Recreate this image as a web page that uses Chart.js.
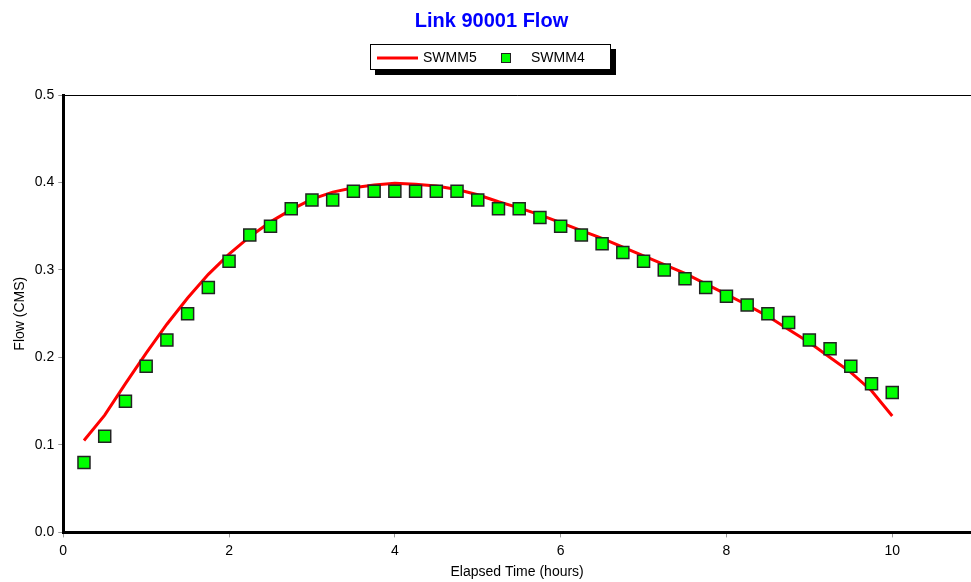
<!DOCTYPE html>
<html>
<head>
<meta charset="utf-8">
<script src="https://cdn.jsdelivr.net/npm/chart.js@4"></script>
<style>
  html, body { margin: 0; padding: 0; background: #fff; }
  #wrap { width: 971px; height: 582px; }
</style>
</head>
<body>
<div id="wrap"><canvas id="chart"></canvas></div>
<script>
// elapsed time (hours) for every reported step
const hours = [0.25, 0.5, 0.75, 1, 1.25, 1.5, 1.75, 2, 2.25, 2.5, 2.75, 3, 3.25, 3.5, 3.75, 4,
  4.25, 4.5, 4.75, 5, 5.25, 5.5, 5.75, 6, 6.25, 6.5, 6.75, 7, 7.25, 7.5, 7.75, 8,
  8.25, 8.5, 8.75, 9, 9.25, 9.5, 9.75, 10];
const swmm5Flow = [0.105, 0.134, 0.17, 0.205, 0.238, 0.268, 0.295, 0.318, 0.338, 0.355, 0.369, 0.381,
  0.389, 0.394, 0.397, 0.399, 0.398, 0.396, 0.392, 0.386, 0.378, 0.371, 0.363, 0.354,
  0.345, 0.336, 0.326, 0.316, 0.306, 0.296, 0.284, 0.272, 0.26, 0.247, 0.232, 0.217,
  0.2, 0.183, 0.162, 0.133];
const swmm4Flow = [0.08, 0.11, 0.15, 0.19, 0.22, 0.25, 0.28, 0.31, 0.34, 0.35, 0.37, 0.38,
  0.38, 0.39, 0.39, 0.39, 0.39, 0.39, 0.39, 0.38, 0.37, 0.37, 0.36, 0.35,
  0.34, 0.33, 0.32, 0.31, 0.30, 0.29, 0.28, 0.27, 0.26, 0.25, 0.24, 0.22,
  0.21, 0.19, 0.17, 0.16];
const xTicks = [0, 2, 4, 6, 8, 10];
const yTicks = [0.0, 0.1, 0.2, 0.3, 0.4, 0.5];

const FONT = "'Liberation Sans', Arial, sans-serif";
Chart.defaults.font.family = FONT;
Chart.defaults.color = "#000";

// top frame line + boxed legend with drop shadow
const frameAndLegend = {
  id: "frameAndLegend",
  afterDraw(chart) {
    const { ctx, chartArea } = chart;
    ctx.save();
    ctx.strokeStyle = "#000";
    ctx.lineWidth = 1;
    ctx.beginPath();
    ctx.moveTo(chartArea.left, chartArea.top + 0.5);
    ctx.lineTo(chart.width, chartArea.top + 0.5);
    ctx.stroke();

    // legend
    const bx = 370, by = 44, bw = 241, bh = 26;
    ctx.fillStyle = "#000";
    ctx.fillRect(bx + 5, by + 5, bw, bh);
    ctx.fillStyle = "#fff";
    ctx.fillRect(bx, by, bw, bh);
    ctx.strokeStyle = "#000";
    ctx.lineWidth = 1;
    ctx.strokeRect(bx + 0.5, by + 0.5, bw - 1, bh - 1);

    const ds = chart.data.datasets;
    const cy = by + 14;
    ctx.strokeStyle = ds[0].borderColor;
    ctx.lineWidth = 3;
    ctx.beginPath();
    ctx.moveTo(377, cy);
    ctx.lineTo(418, cy);
    ctx.stroke();
    ctx.fillStyle = ds[1].backgroundColor;
    ctx.fillRect(501, cy - 5, 10, 10);
    ctx.strokeStyle = "#222";
    ctx.lineWidth = 1;
    ctx.strokeRect(501.5, cy - 4.5, 9, 9);

    ctx.fillStyle = "#000";
    ctx.font = "14px " + FONT;
    ctx.textBaseline = "middle";
    ctx.fillText(ds[0].label, 423, cy);
    ctx.fillText(ds[1].label, 531, cy);
    ctx.restore();
  }
};

new Chart(document.getElementById("chart"), {
  type: "line",
  data: {
    datasets: [
      {
        label: "SWMM5",
        data: hours.map((h, i) => ({ x: h, y: swmm5Flow[i] })),
        borderColor: "#ff0000",
        borderWidth: 3,
        pointRadius: 0,
        tension: 0,
        fill: false,
        order: 2,
      },
      {
        label: "SWMM4",
        data: hours.map((h, i) => ({ x: h, y: swmm4Flow[i] })),
        showLine: false,
        pointStyle: "rect",
        pointRadius: 8.5,
        backgroundColor: "#00ff00",
        borderColor: "#222",
        borderWidth: 1.5,
        order: 1,
      },
    ],
  },
  options: {
    responsive: true,
    maintainAspectRatio: false,
    animation: false,
    layout: { autoPadding: false, padding: { top: 0, right: 0, left: 12, bottom: 1 } },
    plugins: {
      legend: { display: false },
      tooltip: { enabled: false },
      title: {
        display: true,
        text: "Link 90001 Flow",
        color: "#0000ff",
        font: { size: 20, weight: "bold" },
        padding: { top: 9, bottom: 62 },
      },
    },
    scales: {
      x: {
        type: "linear",
        min: 0,
        max: 10.95,
        afterBuildTicks: (scale) => {
          scale.ticks = xTicks.map((v) => ({ value: v }));
        },
        ticks: { font: { size: 14 }, padding: 5, maxRotation: 0 },
        grid: { drawOnChartArea: false, tickLength: 5, color: "#999" },
        border: { color: "#000", width: 3 },
        title: {
          display: true,
          text: "Elapsed Time (hours)",
          font: { size: 14 },
          padding: { top: 0, bottom: 0 },
        },
      },
      y: {
        min: 0,
        max: 0.5,
        afterBuildTicks: (scale) => {
          scale.ticks = yTicks.map((v) => ({ value: v }));
        },
        ticks: { font: { size: 14 }, padding: 4, callback: (v) => v.toFixed(1) },
        grid: { drawOnChartArea: false, tickLength: 5, color: "#999" },
        border: { color: "#000", width: 3 },
        title: {
          display: true,
          text: "Flow (CMS)",
          font: { size: 14 },
          padding: { top: 0, bottom: 2 },
        },
      },
    },
  },
  plugins: [frameAndLegend],
});
</script>
</body>
</html>
